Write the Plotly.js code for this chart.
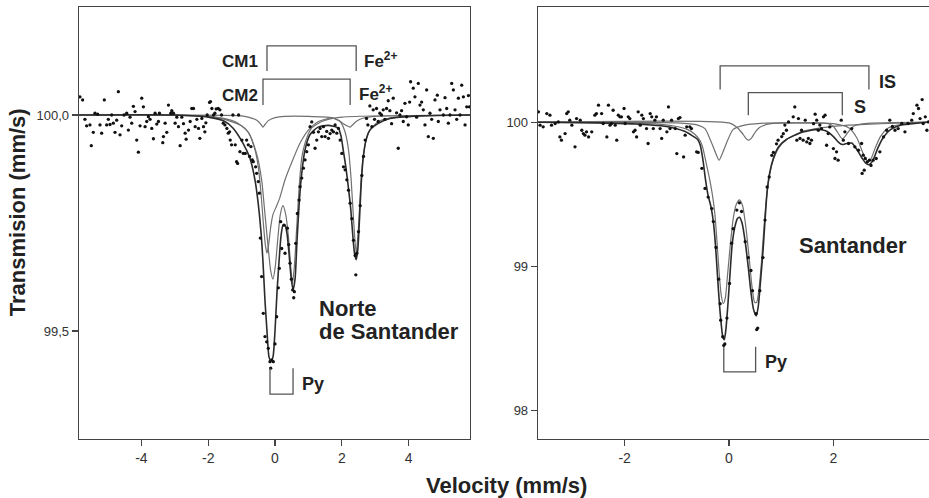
<!DOCTYPE html>
<html>
<head>
<meta charset="utf-8">
<script src="https://cdn.plot.ly/plotly-3.0.1.min.js"></script>
<style>html,body{margin:0;padding:0;background:#fff}#chart{width:929px;height:498px}</style>
</head>
<body>
<div id="chart"></div>
<script>
// ---------- Norte de Santander (left panel) ----------
const leftVel = [-5.84,-5.76,-5.69,-5.64,-5.54,-5.50,-5.44,-5.39,-5.31,-5.24,-5.19,-5.11,-5.04,-4.99,-4.94,-4.89,-4.84,-4.79,-4.74,-4.69,-4.64,-4.59,-4.52,-4.44,-4.39,-4.34,-4.29,-4.24,-4.19,-4.14,-4.09,-4.04,-3.99,-3.94,-3.89,-3.84,-3.79,-3.74,-3.69,-3.64,-3.59,-3.54,-3.49,-3.46,-3.36,-3.34,-3.29,-3.24,-3.19,-3.12,-3.09,-3.04,-2.99,-2.94,-2.89,-2.84,-2.79,-2.74,-2.69,-2.66,-2.59,-2.54,-2.49,-2.44,-2.39,-2.34,-2.29,-2.25,-2.19,-2.14,-2.10,-2.07,-2.03,-1.96,-1.93,-1.89,-1.84,-1.80,-1.76,-1.70,-1.65,-1.60,-1.55,-1.50,-1.44,-1.40,-1.36,-1.34,-1.30,-1.26,-1.19,-1.15,-1.12,-1.09,-1.05,-0.99,-0.95,-0.89,-0.85,-0.80,-0.76,-0.72,-0.68,-0.65,-0.58,-0.55,-0.50,-0.47,-0.44,-0.40,-0.35,-0.30,-0.25,-0.20,-0.15,-0.13,-0.10,-0.05,0.00,0.05,0.10,0.13,0.17,0.20,0.27,0.30,0.37,0.41,0.45,0.49,0.53,0.56,0.58,0.62,0.67,0.72,0.75,0.80,0.85,0.90,0.95,1.00,1.05,1.10,1.15,1.20,1.25,1.30,1.35,1.40,1.45,1.50,1.55,1.60,1.65,1.70,1.75,1.80,1.85,1.90,1.95,2.00,2.05,2.10,2.15,2.20,2.25,2.30,2.35,2.40,2.42,2.45,2.50,2.55,2.60,2.65,2.70,2.74,2.78,2.84,2.90,2.94,2.98,3.04,3.09,3.14,3.19,3.24,3.29,3.34,3.39,3.44,3.49,3.54,3.64,3.69,3.74,3.79,3.84,3.89,3.94,3.99,4.03,4.06,4.14,4.19,4.24,4.29,4.34,4.39,4.44,4.49,4.54,4.59,4.64,4.69,4.74,4.79,4.86,4.89,4.94,5.04,5.09,5.14,5.19,5.24,5.29,5.34,5.39,5.44,5.49,5.54,5.59,5.64,5.69,5.74,5.79,5.82];
const leftTrans = [100.042,100.035,99.990,99.975,99.977,99.929,99.960,100.004,100.002,99.977,99.958,100.035,99.977,99.990,99.978,100.000,99.981,99.960,99.988,100.054,99.954,99.975,100.000,100.004,99.965,99.995,99.981,100.020,100.008,99.942,99.914,99.975,100.039,100.019,99.973,99.985,99.996,99.990,99.969,99.945,100.004,99.979,99.985,100.004,99.936,99.950,99.981,99.960,100.023,100.004,100.010,100.004,99.981,99.995,99.973,99.929,99.995,99.980,99.958,99.944,99.965,99.985,100.015,100.015,99.973,99.990,99.969,99.946,99.992,99.973,99.961,99.982,100.000,100.029,100.031,100.015,100.000,100.004,100.014,100.015,100.012,100.000,99.981,99.977,99.969,99.958,99.961,99.942,99.931,100.000,99.931,99.892,99.888,100.000,99.915,99.942,99.911,99.911,99.942,99.931,99.904,99.927,99.896,99.892,99.880,99.865,99.846,99.819,99.715,99.626,99.541,99.487,99.475,99.460,99.429,99.414,99.433,99.429,99.470,99.533,99.600,99.645,99.753,99.691,99.745,99.680,99.738,99.700,99.657,99.620,99.595,99.577,99.591,99.703,99.772,99.803,99.834,99.854,99.877,99.896,99.915,99.931,99.973,99.984,99.960,99.923,99.942,99.961,99.969,99.950,99.973,99.950,99.962,99.946,99.957,99.965,99.961,99.977,99.958,99.969,99.942,99.911,99.880,99.873,99.850,99.826,99.796,99.760,99.710,99.675,99.630,99.680,99.730,99.790,99.860,99.904,99.942,99.992,99.977,100.021,99.973,100.012,99.990,100.015,99.985,100.004,100.000,100.012,99.990,100.015,100.033,100.010,99.980,100.039,100.005,99.923,100.000,100.010,99.985,100.027,99.996,99.977,100.030,100.077,100.062,100.042,99.995,100.073,100.023,100.030,100.012,99.977,100.058,99.950,100.004,99.990,99.946,100.035,100.046,99.985,100.012,100.000,100.040,100.015,99.981,100.000,100.073,100.058,100.012,99.990,100.039,100.000,100.069,100.042,99.977,100.019,100.045,100.019];

const leftFitVel = [-5.87,-3.0,-2.0,-1.5,-1.26,-0.96,-0.75,-0.60,-0.51,-0.42,-0.36,-0.30,-0.24,-0.18,-0.12,-0.06,0.00,0.06,0.12,0.18,0.24,0.30,0.36,0.42,0.48,0.54,0.60,0.66,0.72,0.78,0.90,1.05,1.29,1.59,1.89,1.98,2.05,2.12,2.20,2.27,2.33,2.38,2.43,2.48,2.53,2.58,2.64,2.72,2.84,3.08,3.44,4.34,5.84];
const leftFitTrans = [100.0,100.0,99.995,99.985,99.970,99.935,99.900,99.850,99.800,99.730,99.660,99.570,99.500,99.440,99.430,99.440,99.500,99.590,99.660,99.720,99.745,99.745,99.725,99.680,99.625,99.595,99.620,99.710,99.790,99.850,99.920,99.955,99.972,99.976,99.970,99.950,99.915,99.880,99.830,99.780,99.720,99.680,99.665,99.690,99.760,99.840,99.900,99.940,99.965,99.980,99.992,99.998,100.0];

const cm1Vel = [-5.87,-2.0,-1.5,-1.0,-0.8,-0.6,-0.5,-0.42,-0.35,-0.29,-0.24,-0.19,-0.13,-0.06,0.05,0.15,0.30,0.50,0.75,1.00,1.30,1.70,1.95,2.10,2.20,2.28,2.35,2.43,2.50,2.57,2.65,2.80,3.10,3.60,5.84];
const cm1Trans = [100.0,99.997,99.990,99.975,99.960,99.920,99.880,99.820,99.750,99.700,99.680,99.700,99.740,99.770,99.790,99.810,99.850,99.890,99.935,99.965,99.985,99.993,99.985,99.960,99.920,99.850,99.760,99.680,99.740,99.840,99.910,99.960,99.985,99.995,100.0];

const cm2Vel = [-5.87,-1.0,-0.8,-0.6,-0.5,-0.42,-0.36,-0.30,-0.20,0.00,0.30,1.00,1.70,1.90,2.05,2.15,2.25,2.32,2.45,2.65,3.00,5.84];
const cm2Trans = [100.0,99.998,99.995,99.990,99.985,99.978,99.972,99.978,99.987,99.994,99.997,99.997,99.994,99.988,99.980,99.975,99.972,99.977,99.986,99.993,99.997,100.0];

const pyLVel = [-5.87,-2.0,-1.2,-0.8,-0.55,-0.40,-0.30,-0.20,-0.13,-0.06,0.01,0.08,0.16,0.24,0.32,0.40,0.46,0.52,0.58,0.65,0.72,0.80,0.92,1.10,1.40,2.00,5.84];
const pyLTrans = [100.0,99.997,99.985,99.960,99.910,99.850,99.770,99.690,99.640,99.620,99.650,99.710,99.770,99.790,99.770,99.720,99.660,99.610,99.650,99.740,99.830,99.900,99.940,99.970,99.985,99.995,100.0];

// ---------- Santander (right panel) ----------
const rightVel = [-3.65,-3.62,-3.56,-3.49,-3.43,-3.40,-3.33,-3.27,-3.24,-3.21,-3.14,-3.11,-3.08,-3.05,-3.01,-2.95,-2.92,-2.85,-2.82,-2.79,-2.76,-2.73,-2.69,-2.63,-2.57,-2.54,-2.50,-2.44,-2.41,-2.34,-2.31,-2.28,-2.25,-2.22,-2.18,-2.15,-2.12,-2.09,-2.06,-2.01,-1.99,-1.93,-1.90,-1.83,-1.80,-1.77,-1.74,-1.70,-1.67,-1.64,-1.58,-1.55,-1.51,-1.48,-1.45,-1.42,-1.39,-1.32,-1.29,-1.26,-1.19,-1.16,-1.13,-1.10,-1.03,-1.00,-0.97,-0.94,-0.87,-0.84,-0.81,-0.75,-0.72,-0.62,-0.59,-0.52,-0.46,-0.40,-0.33,-0.30,-0.25,-0.20,-0.17,-0.16,-0.12,-0.10,-0.08,-0.04,0.01,0.05,0.08,0.15,0.20,0.24,0.31,0.37,0.42,0.45,0.52,0.53,0.55,0.59,0.65,0.69,0.73,0.77,0.82,0.85,0.91,0.94,1.01,1.04,1.07,1.10,1.14,1.23,1.26,1.30,1.33,1.36,1.39,1.42,1.46,1.49,1.52,1.55,1.58,1.62,1.65,1.68,1.71,1.74,1.77,1.81,1.84,1.87,1.90,1.93,2.00,2.03,2.06,2.09,2.15,2.19,2.22,2.29,2.35,2.41,2.48,2.54,2.55,2.57,2.59,2.61,2.65,2.69,2.72,2.76,2.82,2.89,2.96,3.02,3.08,3.13,3.18,3.24,3.31,3.37,3.43,3.50,3.53,3.60,3.63,3.66,3.70,3.72,3.76,3.79,3.82];
const rightTrans = [100.072,99.979,99.968,100.060,100.049,99.979,99.991,100.002,99.898,99.875,99.921,100.060,100.072,100.014,99.979,99.829,100.025,100.014,99.944,99.921,99.910,99.933,99.898,99.933,100.049,100.060,100.118,100.060,99.991,99.898,100.118,99.979,99.991,100.083,99.979,99.875,100.049,100.037,100.037,100.095,99.991,100.037,100.025,99.933,99.944,99.898,100.072,99.979,100.049,100.025,99.956,99.852,100.060,100.037,99.956,100.014,100.037,99.956,99.887,100.014,99.933,100.106,99.956,100.014,99.956,99.782,100.025,100.032,99.759,99.910,99.968,99.968,99.956,99.794,99.790,99.680,99.540,99.480,99.400,99.310,99.130,98.910,98.740,98.625,98.510,98.450,98.460,98.640,98.880,99.160,99.260,99.390,99.440,99.380,99.170,99.060,98.970,98.830,98.670,98.560,98.570,98.830,99.060,99.320,99.550,99.620,99.770,99.790,99.850,99.875,99.900,99.920,99.980,99.944,100.002,100.037,100.106,99.875,100.025,99.887,99.944,99.875,100.014,99.863,99.887,99.852,99.875,99.990,100.056,100.014,99.944,99.980,99.956,100.037,100.049,99.840,99.921,99.967,99.817,99.748,99.794,99.736,100.014,99.875,99.933,99.852,99.956,99.829,99.806,99.852,99.644,99.771,99.667,99.748,99.725,99.736,99.700,99.736,99.748,99.794,99.898,99.944,100.014,99.970,99.944,99.956,99.991,99.933,99.991,100.014,100.060,100.118,100.095,100.025,100.157,99.991,100.037,99.944,100.002];

const rightFitVel = [-3.66,-2.5,-1.8,-1.3,-1.0,-0.84,-0.70,-0.60,-0.55,-0.50,-0.45,-0.40,-0.35,-0.30,-0.26,-0.22,-0.18,-0.15,-0.12,-0.09,-0.06,-0.02,0.02,0.06,0.11,0.16,0.20,0.25,0.31,0.37,0.42,0.47,0.52,0.56,0.60,0.65,0.69,0.73,0.78,0.85,0.95,1.10,1.40,1.70,1.85,2.00,2.10,2.17,2.25,2.35,2.45,2.55,2.62,2.68,2.75,2.85,2.95,3.10,3.30,3.60,3.84];
const rightFitTrans = [100.0,99.995,99.988,99.975,99.955,99.935,99.905,99.880,99.840,99.740,99.600,99.490,99.420,99.310,99.150,98.930,98.720,98.600,98.510,98.490,98.560,98.740,98.950,99.150,99.270,99.330,99.340,99.300,99.170,98.990,98.820,98.700,98.655,98.720,98.880,99.100,99.320,99.520,99.650,99.750,99.830,99.880,99.930,99.950,99.940,99.900,99.860,99.845,99.852,99.855,99.810,99.750,99.715,99.705,99.730,99.820,99.890,99.950,99.980,99.993,100.0];

const pyRVel = [-3.66,-2.0,-1.3,-1.0,-0.8,-0.65,-0.55,-0.50,-0.44,-0.38,-0.32,-0.27,-0.23,-0.19,-0.15,-0.11,-0.07,-0.03,0.02,0.08,0.14,0.20,0.26,0.32,0.38,0.44,0.49,0.53,0.57,0.62,0.67,0.72,0.78,0.85,0.95,1.10,1.40,1.70,2.10,2.60,3.20,3.84];
const pyRTrans = [100.0,99.995,99.985,99.970,99.950,99.915,99.870,99.820,99.720,99.620,99.500,99.360,99.170,98.960,98.800,98.740,98.780,98.930,99.130,99.330,99.430,99.460,99.420,99.280,99.080,98.860,98.750,98.750,98.830,99.020,99.270,99.480,99.640,99.740,99.820,99.880,99.935,99.958,99.975,99.985,99.993,100.0];

const isVel = [-3.66,-1.0,-0.60,-0.46,-0.36,-0.26,-0.19,-0.12,-0.02,0.08,0.30,0.60,1.00,2.00,2.30,2.45,2.55,2.62,2.67,2.72,2.80,2.90,3.05,3.30,3.84];
const isTrans = [100.0,99.995,99.980,99.955,99.880,99.790,99.736,99.790,99.880,99.950,99.980,99.992,99.995,99.990,99.960,99.890,99.800,99.745,99.725,99.745,99.820,99.900,99.960,99.985,100.0];

const sVel = [-3.66,0.00,0.15,0.25,0.32,0.37,0.43,0.50,0.59,0.80,1.50,1.90,2.00,2.08,2.13,2.17,2.22,2.30,2.40,2.60,3.84];
const sTrans = [100.0,99.995,99.965,99.925,99.890,99.875,99.890,99.930,99.965,99.990,99.995,99.990,99.970,99.930,99.900,99.885,99.900,99.940,99.975,99.990,100.0];

// tick labels
const leftXTicks = [-4,-2,0,2,4];
const leftXText = ['-4','-2','0','2','4'];
const leftYTicks = [99.5,100];
const leftYText = ['99,5','100,0'];
const rightXTicks = [-2,0,2];
const rightXText = ['-2','0','2'];
const rightYTicks = [98,99,100];
const rightYText = ['98','99','100'];

// doublet line positions (mm/s) marked by brackets
const cm1Lines = [-0.24,2.43];
const cm2Lines = [-0.36,2.25];
const pyLeftLines = [-0.15,0.54];
const isLines = [-0.17,2.68];
const sLines = [0.37,2.17];
const pyRightLines = [-0.10,0.51];

const FONT = 'Liberation Sans, Arial, sans-serif';
const NARROW = 'Liberation Sans Narrow, Liberation Sans, Arial, sans-serif';
const DARK = '#2b2b2b', GREY = '#707070';

function line(x, y, color, width, xa, ya) {
  return {x, y, type:'scatter', mode:'lines', xaxis:xa, yaxis:ya, hoverinfo:'skip',
    line:{color, width, shape:'spline', smoothing:0.6}, showlegend:false};
}
function dots(x, y, xa, ya) {
  return {x, y, type:'scatter', mode:'markers', xaxis:xa, yaxis:ya,
    marker:{size:3.3, color:'#111'}, showlegend:false};
}

const traces = [
  line(cm2Vel, cm2Trans, GREY, 1.2, 'x', 'y'),
  line(cm1Vel, cm1Trans, GREY, 1.2, 'x', 'y'),
  line(pyLVel, pyLTrans, GREY, 1.2, 'x', 'y'),
  line(leftFitVel, leftFitTrans, DARK, 1.6, 'x', 'y'),
  dots(leftVel, leftTrans, 'x', 'y'),
  line(isVel, isTrans, GREY, 1.2, 'x2', 'y2'),
  line(sVel, sTrans, GREY, 1.2, 'x2', 'y2'),
  line(pyRVel, pyRTrans, GREY, 1.2, 'x2', 'y2'),
  line(rightFitVel, rightFitTrans, DARK, 1.6, 'x2', 'y2'),
  dots(rightVel, rightTrans, 'x2', 'y2')
];

function bracket(pos, yTop, yBot, xr, yr, openDown) {
  const yh = openDown ? yTop : yBot, yl = openDown ? yBot : yTop;
  return {type:'path', xref:xr, yref:yr,
    path:`M${pos[0]},${yl} L${pos[0]},${yh} L${pos[1]},${yh} L${pos[1]},${yl}`,
    line:{color:'#555', width:1.3}};
}
const shapes = [
  bracket(cm1Lines, 100.160, 100.102, 'x', 'y', true),
  bracket(cm2Lines, 100.083, 100.023, 'x', 'y', true),
  bracket(pyLeftLines, 99.414, 99.354, 'x', 'y', false),
  bracket(isLines, 100.391, 100.227, 'x2', 'y2', true),
  bracket(sLines, 100.206, 100.049, 'x2', 'y2', true),
  bracket(pyRightLines, 98.440, 98.266, 'x2', 'y2', false)
];

function lab(text, x, y, xr, yr, anchor, size, fam) {
  return {text, x, y, xref:xr, yref:yr, xanchor:anchor, yanchor:'middle', showarrow:false,
    font:{family:fam || FONT, size, color:'#222'}};
}
const annotations = [
  lab('<b>CM1</b>', -0.45, 100.123, 'x', 'y', 'right', 17, NARROW),
  lab('<b>Fe<sup>2+</sup></b>', 2.60, 100.128, 'x', 'y', 'left', 17, NARROW),
  lab('<b>CM2</b>', -0.45, 100.046, 'x', 'y', 'right', 17, NARROW),
  lab('<b>Fe<sup>2+</sup></b>', 2.46, 100.051, 'x', 'y', 'left', 17, NARROW),
  lab('<b>Py</b>', 0.75, 99.377, 'x', 'y', 'left', 18),
  lab('<b>Norte</b>', 1.26, 99.553, 'x', 'y', 'left', 22),
  lab('<b>de Santander</b>', 1.26, 99.498, 'x', 'y', 'left', 22),
  lab('<b>IS</b>', 2.84, 100.278, 'x2', 'y2', 'left', 18),
  lab('<b>S</b>', 2.36, 100.104, 'x2', 'y2', 'left', 18),
  lab('<b>Py</b>', 0.65, 98.333, 'x2', 'y2', 'left', 18),
  lab('<b>Santander</b>', 1.30, 99.146, 'x2', 'y2', 'left', 22),
  {text:'<b>Transmision (mm/s)</b>', x:0.0183, y:0.525, xref:'paper', yref:'paper', textangle:-90,
    xanchor:'center', yanchor:'middle', showarrow:false, font:{family:FONT, size:22, color:'#222'}},
  {text:'<b>Velocity (mm/s)</b>', x:0.5447, y:-0.1065, xref:'paper', yref:'paper',
    xanchor:'center', yanchor:'middle', showarrow:false, font:{family:FONT, size:22, color:'#222'}}
];

const axisCommon = {showgrid:false, zeroline:false, showline:true, linecolor:'#444', linewidth:1.3,
  ticks:'outside', ticklen:6, tickcolor:'#444', tickwidth:1.2,
  tickfont:{family:FONT, size:14, color:'#333'}, fixedrange:true};

const layout = {
  width:929, height:498, paper_bgcolor:'#fff', plot_bgcolor:'#fff',
  margin:{l:0, r:0, t:7, b:59}, showlegend:false,
  xaxis:Object.assign({}, axisCommon, {domain:[0.08504,0.50592], range:[-5.868,5.838], anchor:'y',
    tickmode:'array', tickvals:leftXTicks, ticktext:leftXText, mirror:true}),
  yaxis:Object.assign({}, axisCommon, {domain:[0,1], range:[99.25,100.25], anchor:'x',
    tickmode:'array', tickvals:leftYTicks, ticktext:leftYText, mirror:true,
    tickfont:{family:FONT, size:13, color:'#333'}}),
  xaxis2:Object.assign({}, axisCommon, {domain:[0.57912,1], range:[-3.659,3.831], anchor:'y2',
    tickmode:'array', tickvals:rightXTicks, ticktext:rightXText, mirror:true}),
  yaxis2:Object.assign({}, axisCommon, {domain:[0,1], range:[97.8,100.8], anchor:'x2',
    tickmode:'array', tickvals:rightYTicks, ticktext:rightYText, mirror:false,
    tickfont:{family:FONT, size:13, color:'#333'}}),
  shapes, annotations
};

Plotly.newPlot('chart', traces, layout, {displayModeBar:false, staticPlot:true});
</script>
</body>
</html>
